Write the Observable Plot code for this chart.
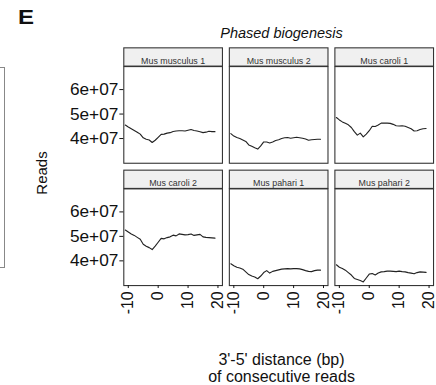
<!DOCTYPE html>
<html>
<head>
<meta charset="utf-8">
<script src="https://cdn.jsdelivr.net/npm/d3@7"></script>
<script src="https://cdn.jsdelivr.net/npm/@observablehq/plot@0.6"></script>
<style>
  html, body { margin: 0; padding: 0; background: #fff; overflow: hidden; }
  #wrap { position: relative; width: 436px; height: 385px; overflow: hidden; font-family: "Liberation Sans", Arial, Helvetica, sans-serif; color: #111; }
  #chart { position: absolute; left: 0; top: 0; }
  .lbl { position: absolute; white-space: nowrap; line-height: 1; }
</style>
</head>
<body>
<div id="wrap">
  <div id="chart"></div>
  <div class="lbl" style="left:18px; top:7px; font-size:20px; font-weight:bold; transform-origin:left top; transform:scaleX(1.2);">E</div>
  <div class="lbl" style="left:281.5px; top:26.3px; font-size:14.5px; font-style:italic; transform:translateX(-50%);">Phased biogenesis</div>
  <div class="lbl" style="left:41px; top:173px; font-size:15px; transform:translate(-50%,-50%) rotate(-90deg);">Reads</div>
  <div class="lbl" style="left:281.5px; top:350.7px; font-size:16px; line-height:17px; text-align:center; transform:translateX(-50%);">3'-5' distance (bp)<br>of consecutive reads</div>
  <div style="position:absolute; left:-10px; top:66.5px; width:12.5px; height:199px; border:1px solid #888;"></div>
</div>
<script>
// facet panels
const panelNames = ["Mus musculus 1", "Mus musculus 2", "Mus caroli 1", "Mus caroli 2", "Mus pahari 1", "Mus pahari 2"];
const panelCols = [0, 1, 2, 0, 1, 2];
const panelRows = [0, 0, 0, 1, 1, 1];

// 3'-5' distance (bp)
const distance = [-11, -10, -9, -8, -7, -6, -5, -4, -3, -2, -1, 0, 1, 2, 3, 4, 5, 6, 7, 8, 9, 10, 11, 12, 13, 14, 15, 16, 17, 18, 19];

// Reads (x 1e7)
const musMusculus1 = [4.55, 4.47, 4.40, 4.33, 4.26, 4.18, 4.03, 3.97, 3.94, 3.84, 3.93, 4.05, 4.17, 4.18, 4.22, 4.24, 4.29, 4.31, 4.32, 4.32, 4.31, 4.34, 4.37, 4.33, 4.31, 4.28, 4.24, 4.26, 4.30, 4.28, 4.28];
const musMusculus2 = [4.20, 4.10, 4.04, 4.00, 3.94, 3.88, 3.74, 3.68, 3.62, 3.57, 3.70, 3.86, 3.86, 3.82, 3.86, 3.92, 3.95, 4.00, 4.03, 4.04, 4.01, 4.03, 4.05, 4.03, 4.01, 3.98, 3.93, 3.95, 3.96, 3.97, 3.97];
const musCaroli1 = [4.86, 4.76, 4.68, 4.62, 4.56, 4.45, 4.28, 4.14, 4.22, 4.07, 4.18, 4.32, 4.50, 4.49, 4.55, 4.63, 4.63, 4.63, 4.62, 4.58, 4.52, 4.51, 4.52, 4.50, 4.45, 4.40, 4.31, 4.32, 4.37, 4.40, 4.41];
const musCaroli2 = [5.26, 5.18, 5.10, 5.04, 4.96, 4.88, 4.68, 4.60, 4.54, 4.46, 4.60, 4.76, 4.92, 4.90, 4.95, 4.98, 5.05, 5.02, 5.10, 5.08, 5.06, 5.07, 5.10, 5.04, 5.06, 5.08, 4.98, 4.96, 4.95, 4.94, 4.93];
const musPahari1 = [3.88, 3.80, 3.74, 3.71, 3.66, 3.55, 3.44, 3.38, 3.34, 3.27, 3.38, 3.52, 3.60, 3.50, 3.57, 3.60, 3.63, 3.66, 3.67, 3.68, 3.67, 3.68, 3.68, 3.67, 3.64, 3.60, 3.57, 3.56, 3.60, 3.62, 3.62];
const musPahari2 = [3.84, 3.74, 3.69, 3.62, 3.52, 3.42, 3.28, 3.24, 3.20, 3.14, 3.30, 3.46, 3.48, 3.42, 3.50, 3.55, 3.56, 3.58, 3.58, 3.57, 3.56, 3.58, 3.56, 3.55, 3.52, 3.50, 3.47, 3.52, 3.55, 3.54, 3.53];

const xTicks = [-10, 0, 10, 20];
const yTicks = [4e7, 5e7, 6e7];
const yTickLabels = ["4e+07", "5e+07", "6e+07"];

const series = [musMusculus1, musMusculus2, musCaroli1, musCaroli2, musPahari1, musPahari2];
const rows = [];
series.forEach((vals, i) => {
  vals.forEach((v, j) => rows.push({panel: panelNames[i], col: panelCols[i], row: panelRows[i], x: distance[j], y: v * 1e7}));
});
const strips = panelNames.map((n, i) => ({name: n, col: panelCols[i], row: panelRows[i]}));

const panelH = 98.5;
const chart = Plot.plot({
  width: 442,
  height: 330,
  marginLeft: 123.3,
  marginRight: 2,
  marginTop: 67.3,
  marginBottom: 40,
  style: {fontFamily: "'Liberation Sans', Arial, Helvetica, sans-serif", fontSize: "16px", color: "#111", background: "transparent"},
  fx: {domain: [0, 1, 2], paddingInner: 0.0635, paddingOuter: 0, axis: null, label: null},
  fy: {domain: [0, 1], paddingInner: 0.207, paddingOuter: 0, axis: null, label: null},
  x: {domain: [-11.5, 21.5], label: null},
  y: {domain: [2.99e7, 6.94e7], label: null},
  marks: [
    Plot.frame({fill: "#F0F0F0", stroke: "#333", strokeWidth: 1.1, insetTop: -19, insetBottom: panelH}),
    Plot.text(strips, {fx: "col", fy: "row", text: "name", frameAnchor: "top", dy: -9.5, fontSize: 9, fill: "#333"}),
    Plot.line(rows, {fx: "col", fy: "row", x: "x", y: "y", stroke: "#222", strokeWidth: 1.15}),
    Plot.frame({stroke: "#333", strokeWidth: 1.1}),
    Plot.axisX({ticks: xTicks, tickFormat: d => String(d), tickRotate: -90, tickSize: 3, tickPadding: 3, fontSize: 16, label: null, facetAnchor: "bottom"}),
    Plot.axisY({ticks: yTicks, tickFormat: d => yTickLabels[yTicks.indexOf(d)], tickSize: 4, tickPadding: 1.5, fontSize: 17.5, label: null, facetAnchor: "left"})
  ]
});
document.getElementById("chart").appendChild(chart);
</script>
</body>
</html>
